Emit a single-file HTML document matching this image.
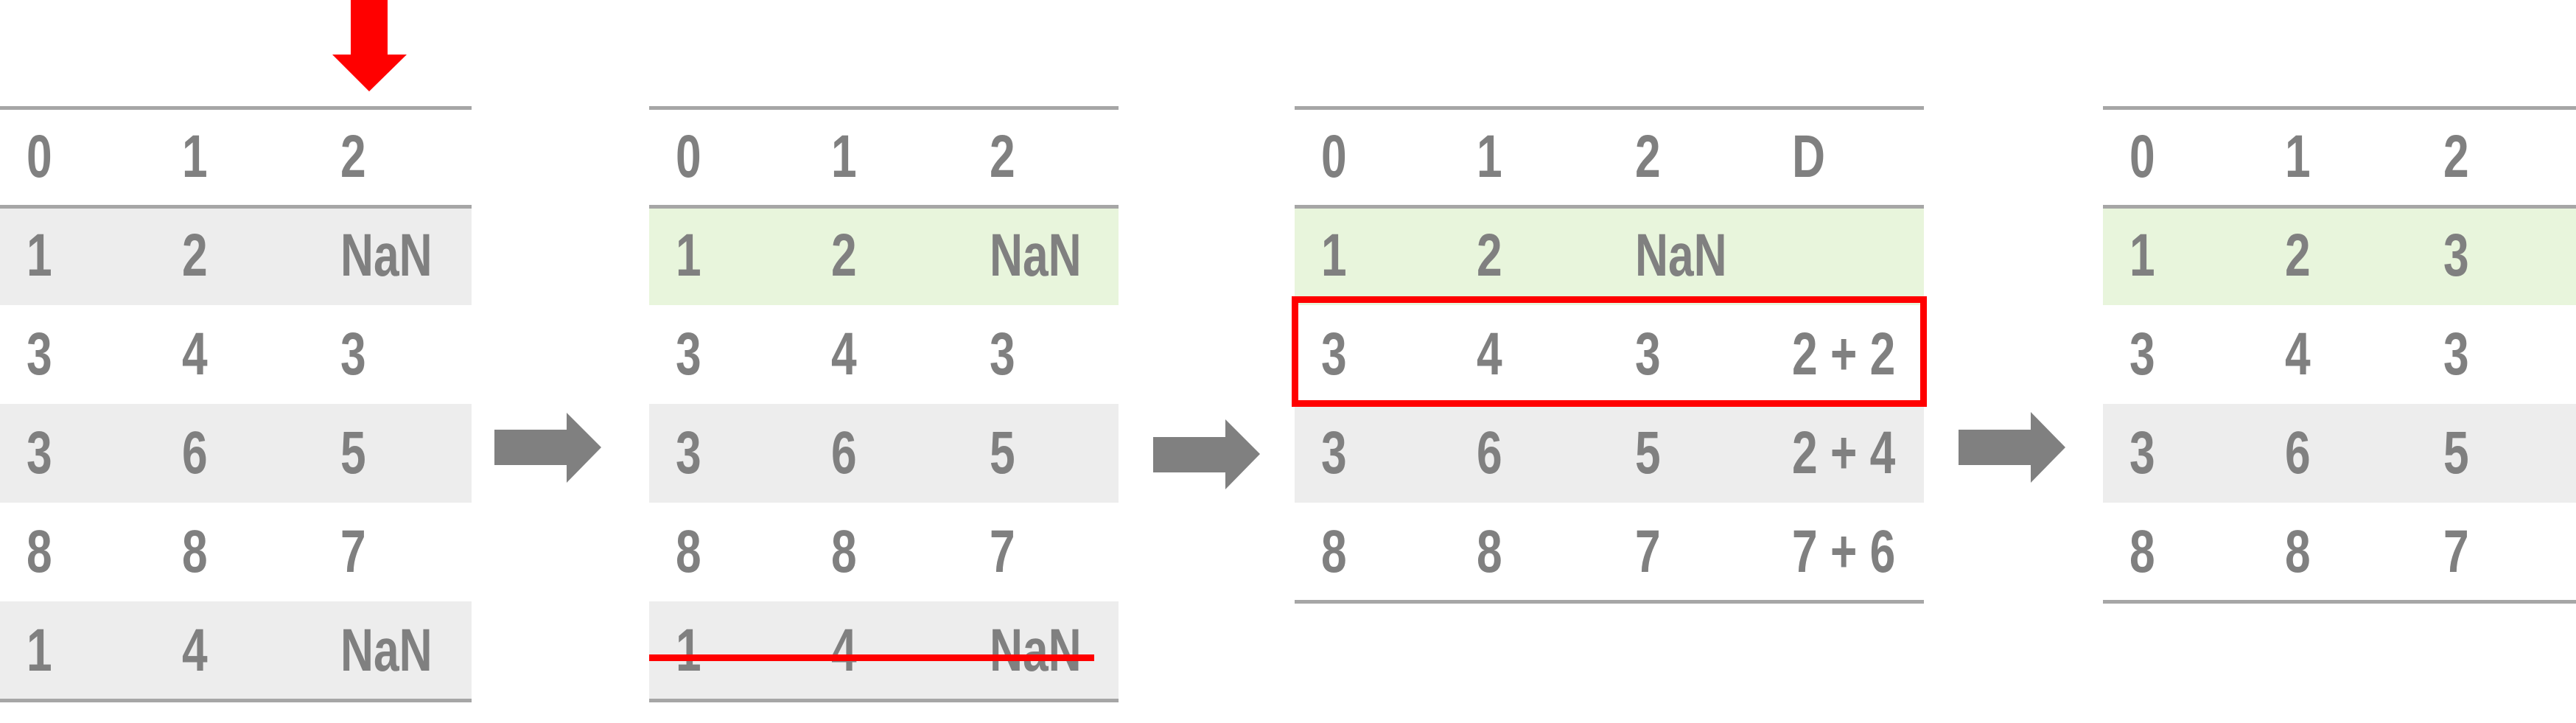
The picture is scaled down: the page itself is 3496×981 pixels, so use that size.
<!DOCTYPE html>
<html><head><meta charset="utf-8"><style>
html,body{margin:0;padding:0;background:#fff;}
#root{position:relative;width:3496px;height:981px;overflow:hidden;background:#fff;font-family:"Liberation Sans",sans-serif;}
.tbl{position:absolute;top:0;}
.line{position:absolute;left:0;right:0;height:5px;background:#a6a6a6;}
.row{position:absolute;left:0;right:0;height:134px;}
.gray{background:#ededed;}
.green{background:#e8f5dc;}
.cell{position:absolute;top:0;height:134px;line-height:134px;font-weight:bold;font-size:82px;color:#808080;transform:scaleX(0.76);transform-origin:0 50%;white-space:pre;}
.ar{position:absolute;}
</style></head><body>
<div id="root">
<svg class="ar" style="left:0;top:0" width="3496" height="981">
  <polygon points="476,0 526,0 526,74 552,74 501,124 451,74 476,74" fill="#ff0000"/>
  <polygon points="671,583 769,583 769,560 816,607 769,655 769,631 671,631" fill="#808080"/>
  <polygon points="1565,593 1663,593 1663,569 1710,616 1663,664 1663,641 1565,641" fill="#808080"/>
  <polygon points="2658,583 2756,583 2756,559 2803,607 2756,655 2756,631 2658,631" fill="#808080"/>
</svg>
<div id="tables"></div>
</div>
<script>
const tables=[
 {name:'table-original',x:0,w:640,cols:['0','1','2'],rows:[['1','2','NaN'],['3','4','3'],['3','6','5'],['8','8','7'],['1','4','NaN']],bg:['gray','','gray','','gray']},
 {name:'table-dropped',x:881,w:637,cols:['0','1','2'],rows:[['1','2','NaN'],['3','4','3'],['3','6','5'],['8','8','7'],['1','4','NaN']],bg:['green','','gray','','gray']},
 {name:'table-computed',x:1757,w:854,cols:['0','1','2','D'],rows:[['1','2','NaN',''],['3','4','3','2 + 2'],['3','6','5','2 + 4'],['8','8','7','7 + 6']],bg:['green','','gray','']},
 {name:'table-filled',x:2854,w:642,cols:['0','1','2'],rows:[['1','2','3'],['3','4','3'],['3','6','5'],['8','8','7']],bg:['green','','gray','']}
];
const colX=[36,247,462,675];
const root=document.getElementById('tables');
tables.forEach(t=>{
 const d=document.createElement('div');d.className='tbl';
 
 
 d.style.left=t.x+'px';d.style.width=t.w+'px';d.style.height='981px';
 let html='';
 const addRow=(vals,top,cls,nm)=>{
   html+='<div class="row '+cls+'" style="top:'+top+'px">';
   vals.forEach((v,i)=>{html+='<div class="cell" style="left:'+colX[i]+'px">'+v+'</div>';});
   html+='</div>';
 };
 addRow(t.cols,146,'','header-row');
 t.rows.forEach((r,i)=>addRow(r,280+i*134,t.bg[i],'data-row-'+(i+1)));
 const bottom=280+t.rows.length*134;
 html+='<div class="line" style="top:144px"></div>';
 html+='<div class="line" style="top:278px"></div>';
 html+='<div class="line" style="top:'+(bottom-2)+'px"></div>';
 d.innerHTML=html;
 root.appendChild(d);
});
// strike line on dropped row
const s=document.createElement('div');


s.style.cssText='position:absolute;left:881px;top:888px;width:604px;height:9px;background:#ff0000;';
root.appendChild(s);
// highlight box
const b=document.createElement('div');


b.style.cssText='position:absolute;left:1753px;top:402px;width:862px;height:150px;box-sizing:border-box;border:9px solid #ff0000;';
root.appendChild(b);
</script>
</body></html>
